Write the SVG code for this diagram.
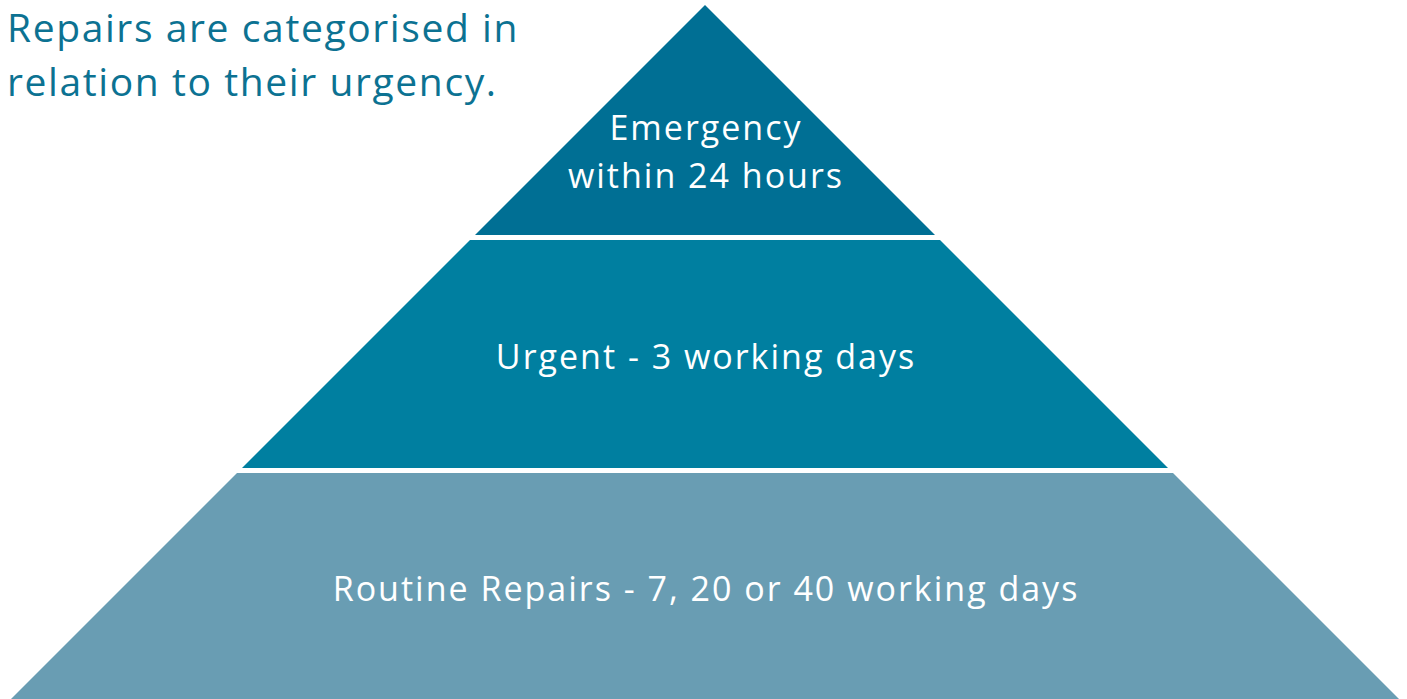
<svg xmlns="http://www.w3.org/2000/svg" width="1407" height="699" viewBox="0 0 1407 699">
<style>
.title{font-family:"Open Sans","Liberation Sans",sans-serif;font-size:39px;letter-spacing:1.6px;fill:#0C7292;}
.lbl{font-family:"Open Sans","Liberation Sans",sans-serif;font-size:34px;letter-spacing:2px;fill:#ffffff;text-anchor:middle;}
</style>
<rect width="1407" height="699" fill="#ffffff"/>
<g id="title">
<text class="title" x="7" y="42">Repairs are categorised in</text>
<text class="title" x="7" y="96">relation to their urgency.</text>
</g>
<g id="tier-emergency">
<polygon points="705,5 935,235 475,235" fill="#006F94"/>
<text class="lbl" x="706" y="140">Emergency</text>
<text class="lbl" x="706" y="188">within 24 hours</text>
</g>
<g id="tier-urgent">
<polygon points="470,240 940,240 1168,468 242,468" fill="#007FA0"/>
<text class="lbl" x="706" y="369">Urgent - 3 working days</text>
</g>
<g id="tier-routine">
<polygon points="237,473 1173,473 1399,699 11,699" fill="#699DB3"/>
<text class="lbl" x="706" y="601">Routine Repairs - 7, 20 or 40 working days</text>
</g>
<g id="connectors"/>
</svg>
